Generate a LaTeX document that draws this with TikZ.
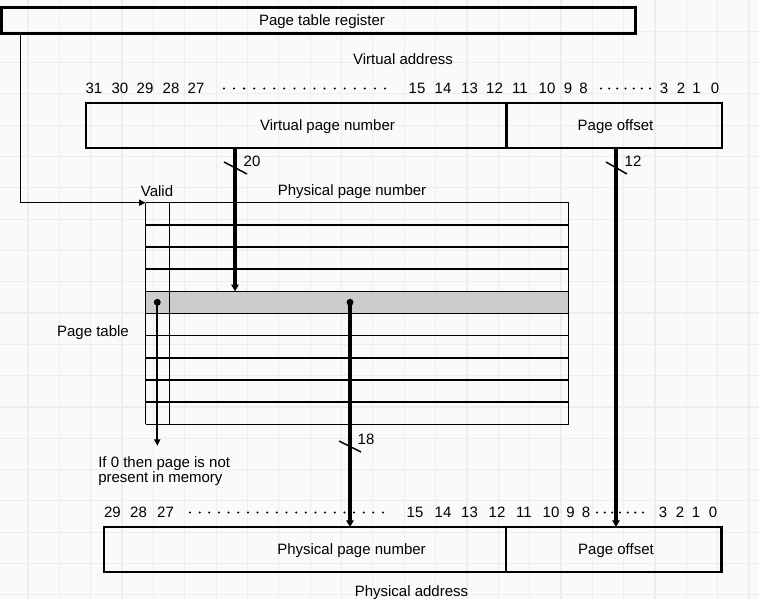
\documentclass[tikz,border=0pt]{standalone}
\usepackage{fontspec}
\setmainfont{Liberation Sans}
\usetikzlibrary{arrows.meta}

\begin{document}
\begin{tikzpicture}[x=0.75pt, y=-0.75pt,
    every node/.style={font=\fontsize{11.25}{13.5}\selectfont, inner sep=0pt},
    box/.style={line width=1.9pt},
    rule/.style={line width=1.1pt},
    bus/.style={line width=2.4pt, -{Triangle[length=5pt, width=5.5pt]}},
    wire/.style={line width=1.1pt, -{Triangle[length=5pt, width=4.5pt]}},
    gridline/.style={black!7, line width=0.9pt}]
  \useasboundingbox (0,0) rectangle (759,599);
  \fill[black!2] (0,0) rectangle (759,599);
  \foreach \k in {0,...,23} \draw[gridline] (28+31.35*\k,0) -- (28+31.35*\k,599);
  \foreach \k in {1,...,19} \draw[gridline] (0,31.3*\k) -- (759,31.3*\k);

  \draw[box] (1.5,7.5) rectangle (635.5,33.5);
  \node (reg) at (322,22) {Page table register};
  \coordinate (regtap) at (20.5,33.5);

  \node (va) at (403,59.5) {Virtual address};
  \foreach \b/\x in {31/94,30/120,29/145,28/171,27/196,15/417,14/443,13/469.5,12/494.5,11/520,10/547,9/568,8/583.5,3/664,2/681,1/696.5,0/715}
    \node (v\b) at (\x,88.5) {\b};
  \foreach \k in {0,...,16} \fill (224+10.06*\k,88.5) circle (0.85pt);
  \foreach \k in {0,...,6} \fill (601+8.17*\k,88.5) circle (0.85pt);
  \draw[box] (86,103) rectangle (722,148);
  \draw[box] (506.5,103) -- (506.5,148);
  \node (vpn) at (327.5,127) {Virtual page number};
  \node (voff) at (615.5,127) {Page offset};
  \coordinate (vpnout) at (235,148);
  \coordinate (voffout) at (616,148);

  \node (valid) at (157,191.5) {Valid};
  \node (pthead) at (352,192) {Physical page number};
  \node (pt) at (93,333) {Page table};
  \fill[black!20] (145.7,291.3) rectangle (568.7,313.5);
  \foreach \i in {0,...,10} \draw[rule] (145.7,202.7+22.16*\i) -- (568.7,202.7+22.16*\i);
  \draw[rule] (145.7,202.7) -- (145.7,424.3) (169.3,202.7) -- (169.3,424.3) (568.7,202.7) -- (568.7,424.3);
  \coordinate (tabtl) at (145.7,202.7);
  \coordinate (rowtop) at (235,291.3);
  \coordinate (vdot) at (157.3,302.3);
  \coordinate (pdot) at (350,302.3);
  \fill (vdot) circle (2.6pt) (pdot) circle (2.6pt);
  \coordinate (validout) at (157.3,446);
  \node[anchor=west, align=left, font=\fontsize{11.25}{11.25}\selectfont] (note) at (98,471) {If 0 then page is not\\present in memory};

  \foreach \b/\x in {29/112.5,28/138.5,27/165.5,15/415,14/443,13/469.5,12/497,11/524,10/551,9/570.5,8/586,3/663,2/680,1/696,0/713}
    \node (p\b) at (\x,512.5) {\b};
  \foreach \k in {0,...,20} \fill (190+9.65*\k,512.5) circle (0.85pt);
  \foreach \k in {0,...,6} \fill (597+7.67*\k,512.5) circle (0.85pt);
  \draw[box] (104,527) rectangle (721.5,572);
  \draw[box] (506,527) -- (506,572);
  \node (ppn) at (351.5,551) {Physical page number};
  \node (poff) at (616,551) {Page offset};
  \node[anchor=base] (pa) at (411.5,596.5) {Physical address};
  \coordinate (ppnin) at (350,527);
  \coordinate (poffin) at (616,527);

  \draw[wire] (regtap) |- (tabtl);
  \draw[bus] (vpnout) -- (rowtop);
  \draw[bus] (voffout) -- (poffin);
  \draw[bus] (pdot) -- (ppnin);
  \draw[wire, line width=1.5pt] (vdot) -- (validout);

  \draw[rule] (224,162) -- (247,174);
  \node (w20) at (252,161) {20};
  \draw[rule] (606,162) -- (627,174);
  \node (w12) at (633,161) {12};
  \draw[rule] (339,441) -- (361,452);
  \node (w18) at (366,439) {18};
\end{tikzpicture}
\end{document}
